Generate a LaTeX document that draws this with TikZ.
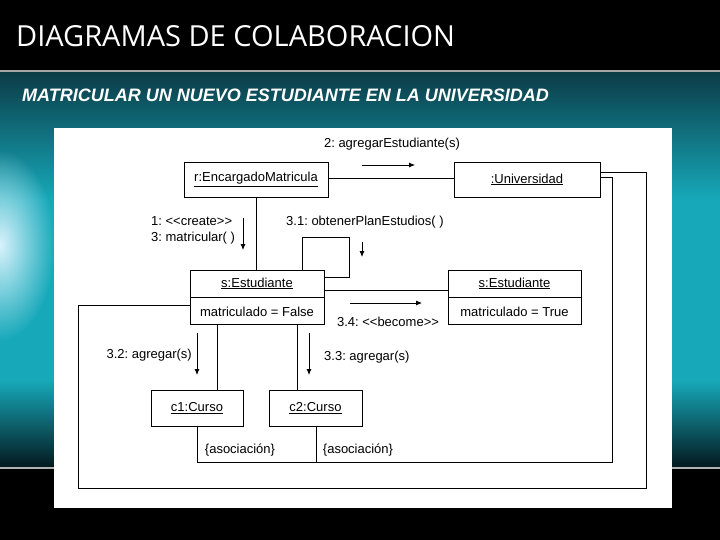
\documentclass[tikz,border=0pt]{standalone}
\usepackage{fontspec}
\setmainfont{Liberation Sans}
\newfontfamily\titlefont{Open Sans}
\usetikzlibrary{arrows.meta,fadings}
\frenchspacing
\definecolor{tealdark}{HTML}{0B3C47}
\definecolor{tealmid}{HTML}{17A9BA}
\definecolor{tealbot}{HTML}{03181D}
\tikzfading[name=glowfade, inner color=transparent!0, outer color=transparent!100]
\tikzset{
  obj/.style={draw, line width=0.9pt, fill=white, inner sep=0pt, font=\fontsize{13}{15}\selectfont},
  lbl/.style={inner sep=0pt, font=\fontsize{13}{15}\selectfont},
  link/.style={line width=0.9pt},
  msg/.style={line width=0.8pt, -{Latex[length=6pt,width=5pt]}},
}
\begin{document}
\begin{tikzpicture}[x=1pt,y=-1pt]
\useasboundingbox (0,0) rectangle (720,540);
% background
\fill[black] (0,0) rectangle (720,540);
\shade[top color=tealdark, bottom color=tealmid] (0,72) rectangle (720,200);
\fill[tealmid] (0,199.5) rectangle (720,380.5);
\shade[top color=tealmid, bottom color=tealbot] (0,380) rectangle (720,468);
\fill[white!85!cyan, path fading=glowfade] (0,245) ellipse (55 and 95);
\draw[gray!70, line width=2pt] (0,71) -- (720,71);
\draw[gray!60, line width=1.5pt] (0,468) -- (720,468);
\node[anchor=base west, inner sep=0pt, text=white, font=\titlefont\fontsize{29}{32}\selectfont] (title) at (16,47) {DIAGRAMAS DE COLABORACION};
\node[anchor=base west, inner sep=0pt, text=white, font=\fontsize{18}{20}\selectfont\bfseries\itshape] (sub) at (22,102) {MATRICULAR UN NUEVO ESTUDIANTE EN LA UNIVERSIDAD};
% white panel
\fill[white] (54,128) rectangle (672,508);

% objects
\node[obj, minimum width=144pt, minimum height=35pt] (enc) at (256,179.5) {\underline{r:EncargadoMatricula}};
\node[obj, minimum width=146pt, minimum height=35pt] (uni) at (527,179.5) {\underline{:Universidad}};
\node[obj, minimum width=134pt, minimum height=27pt] (s1) at (257,283.5) {\underline{s:Estudiante}};
\node[obj, minimum width=134pt, minimum height=27pt, anchor=north] (s1b) at (s1.south) {matriculado = False};
\node[obj, minimum width=133pt, minimum height=27pt] (s2) at (514.5,283.5) {\underline{s:Estudiante}};
\node[obj, minimum width=133pt, minimum height=27pt, anchor=north] (s2b) at (s2.south) {matriculado = True};
\node[obj, minimum width=92pt, minimum height=36pt] (c1) at (197,408) {\underline{c1:Curso}};
\node[obj, minimum width=93pt, minimum height=36pt] (c2) at (315.5,408) {\underline{c2:Curso}};
\draw[line width=1.8pt] (c1.south west) -- (c1.south east) -- (c1.north east);
\draw[line width=1.8pt] (c2.south west) -- (c2.south east) -- (c2.north east);

% links
\draw[link] (enc.east |- 0,178) -- (uni.west |- 0,178);
\draw[link] (enc.south) -- (enc.south |- s1.north);
\draw[link] (s1.east |- 0,290) -- (s2.west |- 0,290);
\draw[link] (s1.north -| 302,0) -- (302,237) -- (349,237) -- (349,277) -- (s1.east |- 0,277);
\draw[link] (s1b.south -| 217,0) -- (c1.north -| 217,0);
\draw[link] (s1b.south -| 297,0) -- (c2.north -| 297,0);
\draw[link] (uni.east |- 0,172) -- (646,172) -- (646,488) -- (78,488) -- (78,305) -- (s1b.west |- 0,305);
\draw[link] (uni.east |- 0,177) -- (612,177) -- (612,462) -- (197,462) -- (c1.south -| 197,0);
\draw[link] (316,462) -- (c2.south -| 316,0);

% messages
\draw[msg] (362,165) -- (415,165);
\node[lbl] (m2) at (392,144) {2: agregarEstudiante(s)};
\draw[msg] (243,218) -- (243,250);
\node[lbl, anchor=west, align=left] (m1) at (151,230) {1: {<}{<}create{>}{>}\\[1pt]3: matricular( )};
\draw[msg] (362,242) -- (362,257);
\node[lbl] (m31) at (365,222) {3.1: obtenerPlanEstudios( )};
\draw[msg] (350,303) -- (422,303);
\node[lbl] (m34) at (388,322) {3.4: {<}{<}become{>}{>}};
\draw[msg] (197,333) -- (197,375);
\node[lbl, anchor=east] (m32) at (192,355) {3.2: agregar(s)};
\draw[msg] (309,333) -- (309,375);
\node[lbl, anchor=west] (m33) at (324,357) {3.3: agregar(s)};
\node[lbl] (a1) at (240,450) {\{asociación\}};
\node[lbl] (a2) at (358,450) {\{asociación\}};
\end{tikzpicture}
\end{document}
